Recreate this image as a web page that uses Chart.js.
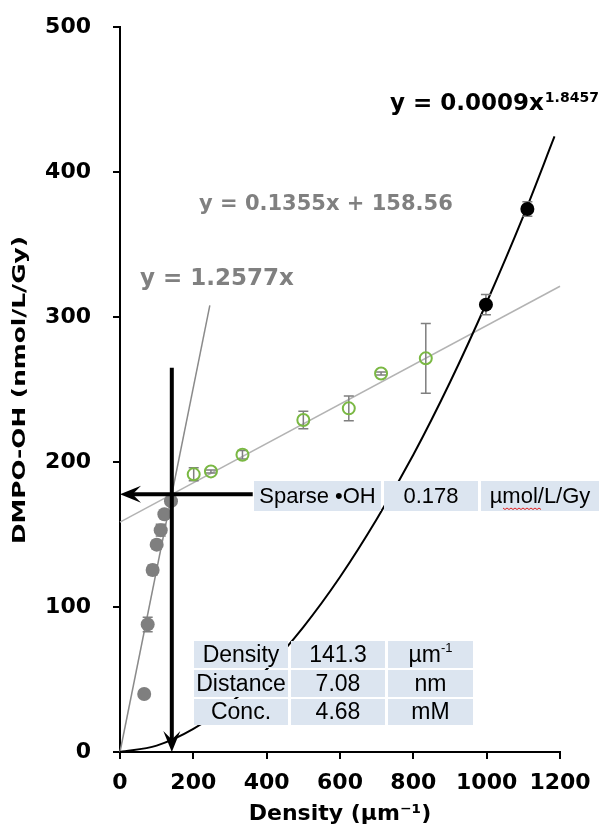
<!DOCTYPE html>
<html>
<head>
<meta charset="utf-8">
<script src="https://cdn.jsdelivr.net/npm/chart.js@4.4.1/dist/chart.umd.min.js"></script>
<style>
  html, body { margin: 0; padding: 0; background: #fff; }
  #wrap { width: 606px; height: 825px; position: relative; }
</style>
</head>
<body>
<div id="wrap"><canvas id="dmpo-chart"></canvas></div>
<script>
// Pontos (x = densidade, y = DMPO-OH)
var sparseX = [66, 75.5, 89, 100, 111, 121, 139]
var sparseY = [40, 88, 125.5, 143, 153, 164, 173]
var sparseErr = [0, 5, 3.5, 3, 4, 2, 2]

var midX = [201, 248, 334, 500, 624, 712, 834]
var midY = [191.5, 193.5, 205, 229, 237, 261, 271.5]
var midErr = [4.5, 1, 3, 6, 8.5, 1, 24]

var denseX = [998, 1111]
var denseY = [308.5, 374.5]
var denseErr = [7, 5]

// Linhas de tendência
var steepX = [0, 245]
var steepY = [0, 308]
var linX = [0, 1200]
var linY = [158.56, 321.2]
var powX = [0, 100, 200, 300, 400, 500, 600, 700, 800, 900, 1000, 1100, 1185]
var powY = [0, 4.4, 15.9, 33.6, 57.1, 86.2, 120.7, 160.5, 205, 255, 310, 369.5, 424.5]

// Setas
var arrowDownX = [141.3, 141.3]
var arrowDownY = [265, 0]
var arrowLeftX = [362, 0]
var arrowLeftY = [177.7, 177.7]

// Eixos
var xTicks = [0, 200, 400, 600, 800, 1000, 1200]
var yTicks = [0, 100, 200, 300, 400, 500]

// Textos
var eqPower = ['y = 0.0009x', '1.8457']
var eqLinear = 'y = 0.1355x + 158.56'
var eqSteep = 'y = 1.2577x'
var sparseRow = ['Sparse •OH', '0.178', 'µmol/L/Gy']
var tableLabels = ['Density', 'Distance', 'Conc.']
var tableValues = ['141.3', '7.08', '4.68']
var tableUnits = [['µm', '-1'], ['nm', ''], ['mM', '']]

var colorSparse = '#7f7f7f'
var colorMid = '#7ab843'
var colorDense = '#000000'
var colorTable = '#dce5f0'
var boldFont = '"DejaVu Sans", Verdana, sans-serif'
var plainFont = '"Liberation Sans", Arial, sans-serif'

function toPoints(xs, ys) {
  return xs.map((x, i) => ({ x: x, y: ys[i] }))
}

// Barras de erro, desenhadas antes dos pontos de cada série
var errorBars = {
  id: 'errorBars',
  beforeDatasetDraw(chart, args) {
    var ds = chart.data.datasets[args.index]
    if (!ds.errs) return
    var ctx = chart.ctx
    var xs = chart.scales.x, ys = chart.scales.y
    ctx.save()
    ctx.strokeStyle = '#7f7f7f'
    ctx.lineWidth = 1.5
    ds.data.forEach((p, i) => {
      var e = ds.errs[i]
      if (!e) return
      var px = xs.getPixelForValue(p.x)
      var top = ys.getPixelForValue(p.y + e)
      var bot = ys.getPixelForValue(p.y - e)
      ctx.beginPath()
      ctx.moveTo(px, top); ctx.lineTo(px, bot)
      ctx.moveTo(px - 5, top); ctx.lineTo(px + 5, top)
      ctx.moveTo(px - 5, bot); ctx.lineTo(px + 5, bot)
      ctx.stroke()
    })
    ctx.restore()
  }
}

function drawArrow(ctx, x0, y0, x1, y1) {
  var ang = Math.atan2(y1 - y0, x1 - x0)
  var L = 21, W = 8.5
  ctx.save()
  ctx.strokeStyle = '#000'
  ctx.fillStyle = '#000'
  ctx.lineWidth = 4
  ctx.beginPath()
  ctx.moveTo(x0, y0)
  ctx.lineTo(x1 - Math.cos(ang) * L * 0.55, y1 - Math.sin(ang) * L * 0.55)
  ctx.stroke()
  ctx.translate(x1, y1)
  ctx.rotate(ang)
  ctx.beginPath()
  ctx.moveTo(0, 0)
  ctx.lineTo(-L, -W)
  ctx.lineTo(-L * 0.6, 0)
  ctx.lineTo(-L, W)
  ctx.closePath()
  ctx.fill()
  ctx.restore()
}

// Setas, equações, tabelas e título do eixo Y
var extras = {
  id: 'extras',
  afterDatasetsDraw(chart) {
    var ctx = chart.ctx
    var xs = chart.scales.x, ys = chart.scales.y
    drawArrow(ctx, xs.getPixelForValue(arrowDownX[0]), ys.getPixelForValue(arrowDownY[0]),
      xs.getPixelForValue(arrowDownX[1]), ys.getPixelForValue(arrowDownY[1]))
    drawArrow(ctx, xs.getPixelForValue(arrowLeftX[0]), ys.getPixelForValue(arrowLeftY[0]),
      xs.getPixelForValue(arrowLeftX[1]), ys.getPixelForValue(arrowLeftY[1]))
  },
  afterDraw(chart) {
    var ctx = chart.ctx
    ctx.save()

    // Equações
    ctx.textAlign = 'left'
    ctx.textBaseline = 'alphabetic'
    ctx.fillStyle = '#000'
    ctx.font = 'bold 23px ' + boldFont
    ctx.fillText(eqPower[0], 390, 110)
    var w = ctx.measureText(eqPower[0]).width
    ctx.font = 'bold 14px ' + boldFont
    ctx.fillText(eqPower[1], 390 + w + 1, 102)

    ctx.fillStyle = '#808080'
    ctx.font = 'bold 21px ' + boldFont
    ctx.fillText(eqLinear, 199, 210)
    ctx.font = 'bold 23px ' + boldFont
    ctx.fillText(eqSteep, 140, 285)

    // Tabela Sparse •OH
    var cols1 = [[254, 381], [384, 478], [481, 599]]
    ctx.font = '22px ' + plainFont
    ctx.textAlign = 'center'
    ctx.textBaseline = 'middle'
    cols1.forEach((c, i) => {
      ctx.fillStyle = colorTable
      ctx.fillRect(c[0], 481, c[1] - c[0], 30)
      ctx.fillStyle = '#000'
      ctx.fillText(sparseRow[i], (c[0] + c[1]) / 2, 497)
    })
    // sublinhado vermelho do corretor
    ctx.strokeStyle = '#e02020'
    ctx.lineWidth = 1
    ctx.beginPath()
    for (var sx = 503; sx <= 542; sx += 2) {
      var sy = 508 + ((sx - 503) % 4 == 0 ? 0 : 1.5)
      if (sx == 503) ctx.moveTo(sx, sy)
      else ctx.lineTo(sx, sy)
    }
    ctx.stroke()

    // Tabela Density / Distance / Conc.
    var cols2 = [[194, 288], [291, 385], [388, 473]]
    var rows2 = [[641, 668], [670, 697], [699, 725]]
    rows2.forEach((r, j) => {
      var cells = [tableLabels[j], tableValues[j]]
      cols2.forEach((c, i) => {
        ctx.fillStyle = colorTable
        ctx.fillRect(c[0], r[0], c[1] - c[0], r[1] - r[0])
        ctx.fillStyle = '#000'
        var cx = (c[0] + c[1]) / 2, cy = (r[0] + r[1]) / 2 + 1
        ctx.font = '23px ' + plainFont
        if (i < 2) {
          ctx.textAlign = 'center'
          ctx.fillText(cells[i], cx, cy)
        } else {
          var u = tableUnits[j]
          var w1 = ctx.measureText(u[0]).width
          ctx.font = '13px ' + plainFont
          var w2 = u[1] ? ctx.measureText(u[1]).width : 0
          var left = cx - (w1 + w2) / 2
          ctx.textAlign = 'left'
          ctx.font = '23px ' + plainFont
          ctx.fillText(u[0], left, cy)
          if (u[1]) {
            ctx.font = '13px ' + plainFont
            ctx.fillText(u[1], left + w1, cy - 7)
          }
        }
      })
    })

    // Título do eixo Y (esticado como no original)
    var title = 'DMPO-OH (nmol/L/Gy)'
    ctx.font = 'bold 18px ' + boldFont
    var tw = ctx.measureText(title).width
    ctx.translate(20, 390)
    ctx.rotate(-Math.PI / 2)
    ctx.scale(308 / tw, 1)
    ctx.textAlign = 'center'
    ctx.textBaseline = 'middle'
    ctx.fillStyle = '#000'
    ctx.fillText(title, 0, 0)
    ctx.restore()
  }
}

window.onload = function () {
  var el = document.getElementById('dmpo-chart')
  el.width = 606
  el.height = 825

  new Chart(el, {
    type: 'scatter',
    data: {
      datasets: [
        {
          label: 'sparse',
          data: toPoints(sparseX, sparseY),
          errs: sparseErr,
          pointRadius: 7,
          pointBackgroundColor: colorSparse,
          pointBorderColor: colorSparse,
          pointBorderWidth: 0
        },
        {
          label: 'mid',
          data: toPoints(midX, midY),
          errs: midErr,
          pointRadius: 6,
          pointBackgroundColor: 'rgba(0,0,0,0)',
          pointBorderColor: colorMid,
          pointBorderWidth: 2
        },
        {
          label: 'dense',
          data: toPoints(denseX, denseY),
          errs: denseErr,
          pointRadius: 7,
          pointBackgroundColor: colorDense,
          pointBorderColor: colorDense,
          pointBorderWidth: 0
        },
        {
          label: 'power',
          data: toPoints(powX, powY),
          showLine: true,
          borderColor: '#000',
          borderWidth: 2,
          pointRadius: 0,
          cubicInterpolationMode: 'monotone'
        },
        {
          label: 'linear',
          data: toPoints(linX, linY),
          showLine: true,
          borderColor: '#b3b3b3',
          borderWidth: 1.5,
          pointRadius: 0
        },
        {
          label: 'steep',
          data: toPoints(steepX, steepY),
          showLine: true,
          borderColor: '#8a8a8a',
          borderWidth: 1.5,
          pointRadius: 0
        }
      ]
    },
    options: {
      responsive: false,
      animation: false,
      clip: false,
      layout: { padding: { left: 0, top: 27, right: 46, bottom: 0 } },
      plugins: {
        legend: { display: false },
        tooltip: { enabled: false }
      },
      scales: {
        x: {
          type: 'linear',
          min: xTicks[0],
          max: xTicks[xTicks.length - 1],
          afterFit: (scale) => { scale.height = 73; scale.paddingLeft = 0; scale.paddingRight = 0 },
          afterBuildTicks: (scale) => { scale.ticks = xTicks.map(v => ({ value: v })) },
          border: { display: true, color: '#000', width: 2 },
          grid: { display: true, drawOnChartArea: false, drawTicks: true, tickLength: 7, color: '#000', lineWidth: 2 },
          ticks: { color: '#000', padding: 11, font: { family: boldFont, size: 22, weight: 'bold' }, maxRotation: 0, callback: (v) => String(v) },
          title: {
            display: true,
            text: 'Density (µm⁻¹)',
            color: '#000',
            padding: { top: 0, bottom: 0 },
            font: { family: boldFont, size: 22, weight: 'bold', lineHeight: 1 }
          }
        },
        y: {
          type: 'linear',
          min: yTicks[0],
          max: yTicks[yTicks.length - 1],
          afterFit: (scale) => { scale.width = 120; scale.paddingTop = 0; scale.paddingBottom = 0 },
          afterBuildTicks: (scale) => { scale.ticks = yTicks.map(v => ({ value: v })) },
          border: { display: true, color: '#000', width: 2 },
          grid: { display: true, drawOnChartArea: false, drawTicks: true, tickLength: 7, color: '#000', lineWidth: 2 },
          ticks: { color: '#000', padding: 22, font: { family: boldFont, size: 22, weight: 'bold' }, callback: (v) => String(v) }
        }
      }
    },
    plugins: [errorBars, extras]
  })
}
</script>
</body>
</html>
